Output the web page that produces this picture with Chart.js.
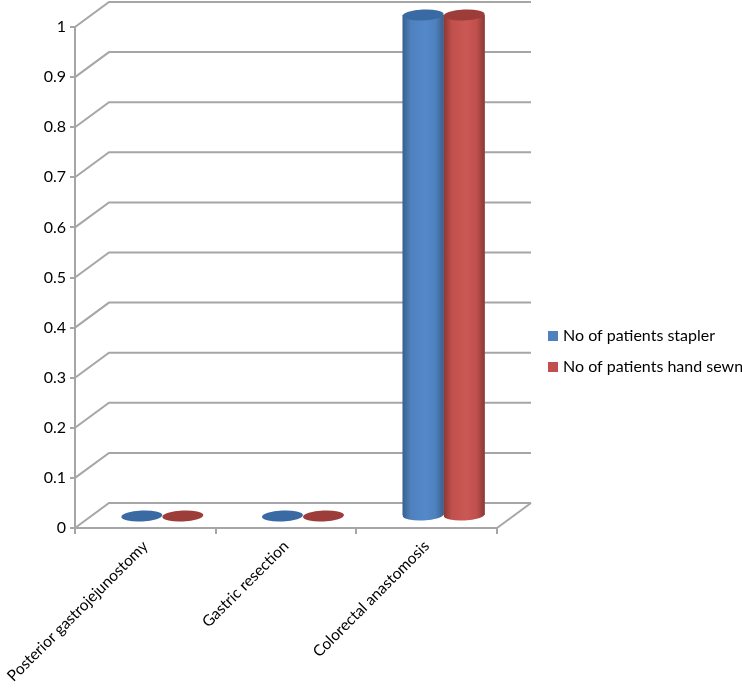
<!DOCTYPE html>
<html>
<head>
<meta charset="utf-8">
<title>Patients by procedure</title>
<script src="https://cdn.jsdelivr.net/npm/chart.js@4"></script>
<style>
  html, body { margin: 0; padding: 0; background: #fff; }
  canvas { display: block; }
</style>
</head>
<body>
<canvas id="chart" width="742" height="689"></canvas>
<script>
  const categories = ['Posterior gastrojejunostomy', 'Gastric resection', 'Colorectal anastomosis'];
  const stapler = [0, 0, 1];
  const handSewn = [0, 0, 1];
  const yTickLabels = ['0', '0.1', '0.2', '0.3', '0.4', '0.5', '0.6', '0.7', '0.8', '0.9', '1'];

  const AXIS = '#a6a6a6';
  const FONT = 'Lato, "Open Sans", sans-serif';
  // chart depth, the back wall and the floor sit this far from the front axes
  const WALL = { dx: 34, dy: -25 };
  const BAR = { dx: 17, dy: -12 };
  const TILT = -0.05;
  const RY = 5.5;

  const cylColors = [
    { edge: '#38608f', mid: '#5388ca', cap: '#3a6aa3', flat: '#4f81bd' },
    { edge: '#8a3835', mid: '#cb5854', cap: '#9c3d3a', flat: '#c0504d' },
  ];

  // back wall and side wall lines, drawn behind the bars
  const wallPlugin = {
    id: 'wall',
    beforeDatasetsDraw(chart) {
      const { ctx, scales: { x, y } } = chart;
      ctx.save();
      ctx.strokeStyle = AXIS;
      ctx.lineWidth = 2;
      yTickLabels.forEach((_, i) => {
        const py = y.getPixelForValue(i / 10);
        ctx.beginPath();
        ctx.moveTo(x.left, py);
        ctx.lineTo(x.left + WALL.dx, py + WALL.dy);
        ctx.lineTo(x.right + WALL.dx, py + WALL.dy);
        ctx.stroke();
      });
      // right edge of the floor
      const py0 = y.getPixelForValue(0);
      ctx.beginPath();
      ctx.moveTo(x.right, py0);
      ctx.lineTo(x.right + WALL.dx, py0 + WALL.dy);
      ctx.stroke();
      ctx.restore();
    },
  };

  // shifts the bars onto the floor and paints them as cylinders
  const cylinderPlugin = {
    id: 'cylinder',
    beforeDatasetsDraw(chart) {
      chart.ctx.save();
      chart.ctx.translate(BAR.dx, BAR.dy);
    },
    afterDatasetsDraw(chart) {
      const { ctx } = chart;
      chart.data.datasets.forEach((ds, d) => {
        const c = cylColors[d];
        chart.getDatasetMeta(d).data.forEach((bar) => {
          const left = bar.x - bar.width / 2;
          const rx = bar.width / 2;
          if (bar.base - bar.y > 1) {
            const g = ctx.createLinearGradient(left, 0, left + bar.width, 0);
            g.addColorStop(0, c.edge);
            g.addColorStop(0.2, c.flat);
            g.addColorStop(0.55, c.mid);
            g.addColorStop(0.8, c.flat);
            g.addColorStop(1, c.edge);
            ctx.fillStyle = g;
            ctx.beginPath();
            ctx.ellipse(bar.x, bar.base, rx, RY, TILT, 0, Math.PI * 2);
            ctx.rect(left, bar.y, bar.width, bar.base - bar.y);
            ctx.fill('nonzero');
          }
          ctx.fillStyle = c.cap;
          ctx.beginPath();
          ctx.ellipse(bar.x, bar.y, rx, RY, TILT, 0, Math.PI * 2);
          ctx.fill();
        });
      });
      ctx.restore();
    },
  };

  // legend sits well clear of the plot, so it is placed by hand
  const legendPlugin = {
    id: 'sideLegend',
    afterDraw(chart) {
      const { ctx } = chart;
      ctx.save();
      ctx.font = '16px ' + FONT;
      ctx.textBaseline = 'middle';
      chart.data.datasets.forEach((ds, i) => {
        const cy = 336 + i * 31;
        ctx.fillStyle = ds.backgroundColor;
        ctx.fillRect(548, cy - 5, 10, 10);
        ctx.fillStyle = '#000';
        ctx.fillText(ds.label, 563, cy);
      });
      ctx.restore();
    },
  };

  new Chart(document.getElementById('chart'), {
    type: 'bar',
    data: {
      labels: categories,
      datasets: [
        { label: 'No of patients stapler', data: stapler, backgroundColor: cylColors[0].flat },
        { label: 'No of patients hand sewn', data: handSewn, backgroundColor: cylColors[1].flat },
      ],
    },
    options: {
      responsive: false,
      animation: false,
      layout: { padding: { top: 27, right: 245, left: 0, bottom: 0 } },
      categoryPercentage: 0.583,
      barPercentage: 1,
      plugins: { legend: { display: false }, tooltip: { enabled: false } },
      scales: {
        x: {
          // the long first label must not push the plot to the right
          afterFit(s) { s.height = 161; s.paddingLeft = 0; },
          border: { color: AXIS, width: 2 },
          grid: { drawOnChartArea: false, color: AXIS, lineWidth: 2, tickLength: 6 },
          ticks: { color: '#000', font: { family: FONT, size: 15.5 }, minRotation: 45, maxRotation: 45, autoSkip: false, padding: 3 },
        },
        y: {
          min: 0,
          max: 1,
          afterFit(s) { s.width = 75; },
          border: { color: AXIS, width: 2 },
          grid: { drawOnChartArea: false, color: AXIS, lineWidth: 2, tickLength: 5 },
          ticks: {
            stepSize: 0.1,
            color: '#000',
            font: { family: FONT, size: 16 },
            padding: 4,
            callback: (v, i) => yTickLabels[i],
          },
        },
      },
    },
    plugins: [wallPlugin, cylinderPlugin, legendPlugin],
  });
</script>
</body>
</html>
